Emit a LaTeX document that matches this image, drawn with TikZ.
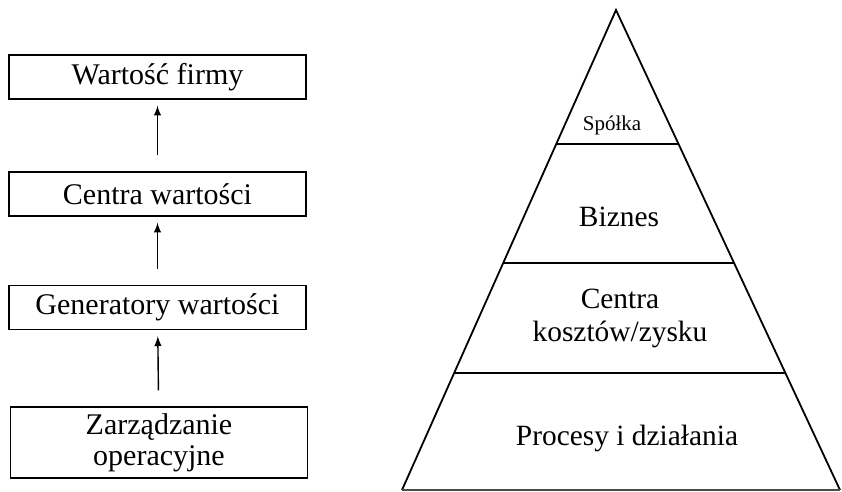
\documentclass[tikz,border=0pt]{standalone}
\usepackage{fontspec}
\setmainfont{Liberation Serif}
\usetikzlibrary{calc}

\begin{document}
\begin{tikzpicture}[x=0.5pt,y=-0.5pt,>=latex,
  box/.style={draw,line width=0.7pt,minimum width=148.5pt,minimum height=22pt,inner sep=0pt,align=center,font=\fontsize{15}{15.5}\selectfont},
  arr/.style={->,line width=0.7pt,shorten <=8pt,shorten >=3pt},
  lvl/.style={align=center,font=\fontsize{14.7}{16.5}\selectfont}]
\useasboundingbox (0,0) rectangle (842,492);
\node[box] (firma) at (157.5,77) {Wartość firmy};
\node[box] (centra) at (157.5,194) {Centra wartości};
\node[box] (gen) at (157.5,307.5) {Generatory wartości};
\node[box,minimum height=35.5pt] (zarz) at (159,442.5) {Zarządzanie\\operacyjne};
\draw[arr] (centra) -- (firma);
\draw[arr] (gen) -- (centra);
\draw[arr] (zarz) -- (gen);
\coordinate (top) at (616,10);
\coordinate (bl) at (402,490);
\coordinate (br) at (840,490);
\draw[line width=0.9pt] (bl) -- (top) -- (br);
\draw[line width=0.6pt,black!70] (bl) -- (br);
\draw[line width=0.9pt] ($(top)!0.279!(bl)$) -- ($(top)!0.279!(br)$);
\draw[line width=0.9pt] ($(top)!0.527!(bl)$) -- ($(top)!0.527!(br)$);
\draw[line width=0.9pt] ($(top)!0.756!(bl)$) -- ($(top)!0.756!(br)$);
\node[lvl,font=\fontsize{10.5}{12}\selectfont] (spolka) at (612,125) {Spółka};
\node[lvl] (biznes) at (619,217) {Biznes};
\node[lvl] (koszty) at (620,318) {Centra\\kosztów/zysku};
\node[lvl] (procesy) at (627,438) {Procesy i działania};
\end{tikzpicture}
\end{document}
